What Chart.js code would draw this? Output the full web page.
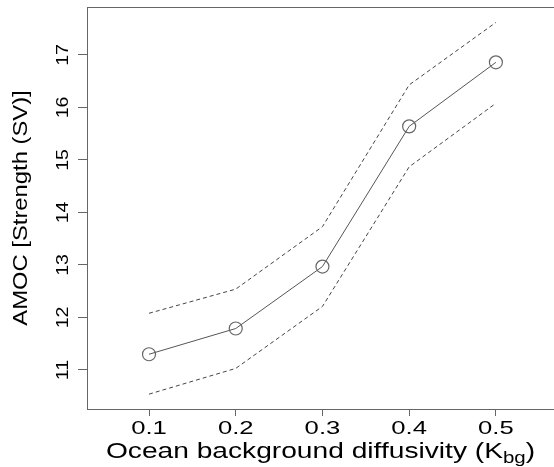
<!DOCTYPE html>
<html>
<head>
<meta charset="utf-8">
<script src="https://cdn.jsdelivr.net/npm/chart.js@4"></script>
<style>
  html, body { margin: 0; padding: 0; background: #fff; }
  #wrap { width: 554px; height: 467px; }
</style>
</head>
<body>
<div id="wrap"><canvas id="amocChart" width="554" height="467"></canvas></div>
<script>
// values
const diffusivity = [0.1, 0.2, 0.3, 0.4, 0.5];
const amocMean = [11.30, 11.79, 12.97, 15.64, 16.86];
const amocUpper = [12.08, 12.54, 13.73, 16.43, 17.62];
const amocLower = [10.54, 11.03, 12.21, 14.87, 16.08];
const xTicks = [0.1, 0.2, 0.3, 0.4, 0.5];
const yTicks = [11, 12, 13, 14, 15, 16, 17];

const FONT = '"Liberation Sans", Arial, Helvetica, sans-serif';

function pts(ys) {
    return diffusivity.map((x, i) => ({x: x, y: ys[i]}));
}

// text drawn wider than the font, like the R device output
function wideText(ctx, text, x, y, angle, stretch) {
    ctx.save();
    ctx.translate(x, y);
    ctx.rotate(angle);
    ctx.scale(stretch, 1);
    ctx.fillText(text, 0, 0);
    ctx.restore();
}

// draws the R-style box top, tick labels and axis titles
const rStylePlugin = {
    id: 'rStyle',
    afterDraw(chart) {
        const ctx = chart.ctx;
        const area = chart.chartArea;
        const xs = chart.scales.x, ys = chart.scales.y;
        ctx.save();
        // top border of the box
        ctx.strokeStyle = '#666';
        ctx.lineWidth = 1;
        ctx.beginPath();
        ctx.moveTo(area.left, area.top + 0.5);
        ctx.lineTo(area.right, area.top + 0.5);
        ctx.stroke();

        ctx.fillStyle = '#000';
        ctx.textAlign = 'center';
        ctx.textBaseline = 'middle';
        // x tick labels
        ctx.font = '19px ' + FONT;
        xTicks.forEach(v => {
            wideText(ctx, v.toFixed(1), xs.getPixelForValue(v), 429, 0, 1.35);
        });
        // y tick labels, rotated
        ctx.font = '17px ' + FONT;
        yTicks.forEach(v => {
            wideText(ctx, String(v), 63, ys.getPixelForValue(v), -Math.PI / 2, 1.15);
        });
        // y title
        ctx.font = '20px ' + FONT;
        wideText(ctx, 'AMOC [Strength (SV)]', 21, (area.top + area.bottom) / 2, -Math.PI / 2, 1.19);

        // x title with subscript
        const stretch = 1.28;
        const main = 'Ocean background diffusivity (K';
        const sub = 'bg';
        const close = ')';
        ctx.textBaseline = 'alphabetic';
        ctx.textAlign = 'left';
        ctx.font = '22px ' + FONT;
        const wMain = ctx.measureText(main).width * stretch;
        const wClose = ctx.measureText(close).width * stretch;
        ctx.font = '16px ' + FONT;
        const wSub = ctx.measureText(sub).width * stretch;
        const total = wMain + wSub + wClose;
        const x0 = (area.left + area.right) / 2 - total / 2;
        const base = 458;
        ctx.font = '22px ' + FONT;
        wideText(ctx, main, x0, base, 0, stretch);
        ctx.font = '16px ' + FONT;
        wideText(ctx, sub, x0 + wMain, base + 5, 0, stretch);
        ctx.font = '22px ' + FONT;
        wideText(ctx, close, x0 + wMain + wSub, base, 0, stretch);
        ctx.restore();
    }
};

new Chart(document.getElementById('amocChart').getContext('2d'), {
    type: 'line',
    data: {
        datasets: [
            {
                label: 'mean',
                data: pts(amocMean),
                borderColor: '#555',
                borderWidth: 1,
                pointRadius: 6.5,
                pointBorderColor: '#666',
                pointBackgroundColor: 'rgba(0,0,0,0)',
                pointBorderWidth: 1.2,
                tension: 0
            },
            {
                label: 'upper',
                data: pts(amocUpper),
                borderColor: '#444',
                borderWidth: 1,
                borderDash: [4, 3],
                pointRadius: 0,
                tension: 0
            },
            {
                label: 'lower',
                data: pts(amocLower),
                borderColor: '#444',
                borderWidth: 1,
                borderDash: [4, 3],
                pointRadius: 0,
                tension: 0
            }
        ]
    },
    options: {
        responsive: false,
        animation: false,
        layout: {autoPadding: false, padding: {top: 7, right: 0, left: 0, bottom: 0}},
        plugins: {legend: {display: false}, tooltip: {enabled: false}},
        scales: {
            x: {
                type: 'linear',
                min: 0.0285,
                max: 0.567,
                afterBuildTicks: s => { s.ticks = xTicks.map(v => ({value: v})); },
                afterFit: s => { s.height = 58; },
                ticks: {display: false},
                grid: {drawOnChartArea: false, drawTicks: true, tickLength: 7, color: '#666'},
                border: {display: true, color: '#666', width: 1}
            },
            y: {
                type: 'linear',
                min: 10.257,
                max: 17.914,
                afterBuildTicks: s => { s.ticks = yTicks.map(v => ({value: v})); },
                afterFit: s => { s.width = 87; },
                ticks: {display: false},
                grid: {drawOnChartArea: false, drawTicks: true, tickLength: 9, color: '#666'},
                border: {display: true, color: '#666', width: 1}
            }
        }
    },
    plugins: [rStylePlugin]
});
</script>
</body>
</html>
